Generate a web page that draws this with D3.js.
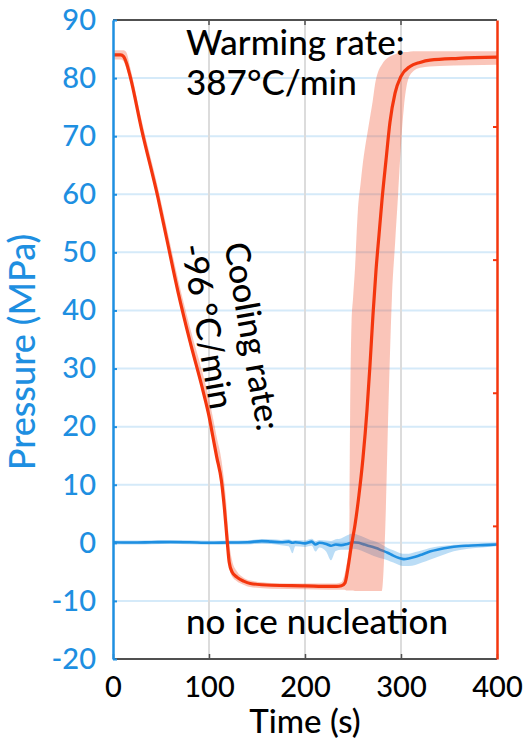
<!DOCTYPE html>
<html><head><meta charset="utf-8">
<script src="https://cdn.jsdelivr.net/npm/d3@7"></script>
<style>
html,body{margin:0;padding:0;background:#fff;}
svg{display:block;font-family:Lato,"Open Sans",sans-serif;font-weight:500;}
</style></head><body>
<svg id="chart" width="532" height="742"></svg>
<script>
// Mean pressure during cooling, hold and warming
const redTime = [0,8,11,14,18,30,47,56,68,80,94,100,104,108,113,116,118,119.5,121,124,129,136,143,165,200,225,233,238,241.7,244.8,247.9,252.1,256.2,260.4,264.6,267.7,270.8,274,277.1,280.2,284.4,288.5,293.8,300,309.4,319.8,330.2,360,400];
const redMean = [84.0,84.0,83.7,82.6,80.2,71.0,59.3,52.3,43.0,34.8,26.0,21.8,18.3,14.8,10.6,6.0,2.2,-0.8,-3.3,-5.0,-5.9,-6.6,-7.0,-7.3,-7.4,-7.5,-7.5,-7.4,-6.9,-4.3,-0.9,3.1,8.2,14.6,22.9,30.6,39.2,47.0,53.0,59.0,65.9,72.4,77.4,80.3,82.0,82.7,83.1,83.4,83.6];

// Spread of the pressure runs (lower / upper bound)
const bandTime = [0,8,11,14,18,30,47,56,68,80,94,100,104,108,113,116,118,119.5,121,124,129,136,143,165,200,225,233,238,241,243,245,246,247,248.5,250,252,255,258,260,262.5,265,268,270.5,273,276,280,283.5,287,290.5,294,297,300,303,307,313,320,340,370,400];
const redLow  = [83.2,83.2,82.9,81.6,79.4,70.3,58.6,51.6,42.3,34.1,25.3,21.1,17.6,14.0,9.8,5.0,1.2,-1.8,-4.3,-5.8,-6.6,-7.2,-7.6,-7.9,-8.0,-8.1,-8.1,-8.1,-8.1,-8.2,-8.2,-8.2,-8.2,-8.2,-8.2,-8.3,-8.3,-8.3,-8.3,-8.3,-8.3,-8.3,-8.3,-8.3,-8.3,-8.3,2.0,24.0,42.0,52.0,60.0,68.5,75.0,79.5,81.2,81.8,82.1,82.2,82.3];
const redHigh = [84.8,84.8,84.8,84.4,81.8,72.6,61.0,54.2,45.2,37.2,28.8,24.8,21.6,18.2,14.2,10.2,6.8,3.2,0.2,-3.0,-4.9,-6.0,-6.5,-6.9,-7.0,-7.0,-7.0,-6.8,-5.6,-4.0,-2.0,0.0,22.0,38.0,42.0,47.0,57.0,62.0,65.0,68.0,70.5,73.5,76.0,79.0,81.0,82.3,83.1,83.6,83.9,84.1,84.3,84.4,84.5,84.5,84.6,84.6,84.6,84.6,84.6];

// Reference trace near zero pressure
const blueTime = [0,20,40,60,80,100,120,140,155,165,175,183,187,190,200,207,211,215,222,227,232,238,244,250,256,262,268,274,280,286,292,298,303,308,315,322,330,340,350,360,370,385,400];
const blueMean = [0.1,0.05,0.1,0.15,0.1,0.0,0.05,0.1,0.3,0.2,0.1,0.2,0.0,0.1,-0.1,0.2,-0.3,0.0,-0.2,-0.5,-0.3,-0.4,-0.2,0.1,0.0,-0.3,-0.6,-0.9,-1.3,-1.7,-2.2,-2.6,-2.8,-2.7,-2.4,-2.0,-1.5,-1.1,-0.8,-0.6,-0.5,-0.4,-0.3];
const blueLow  = [-0.3,-0.3,-0.25,-0.2,-0.25,-0.35,-0.3,-0.3,-0.1,-0.2,-0.4,-0.6,-1.8,-0.6,-0.7,-0.5,-1.5,-0.8,-1.5,-3.0,-1.4,-1.2,-1.2,-1.0,-1.2,-1.6,-2.0,-2.4,-2.7,-3.0,-3.4,-3.8,-4.0,-4.0,-3.8,-3.4,-2.9,-2.3,-1.7,-1.3,-1.0,-0.8,-0.6];
const blueHigh = [0.4,0.4,0.45,0.5,0.45,0.35,0.4,0.45,0.65,0.6,0.5,0.6,0.4,0.5,0.4,0.7,0.3,0.5,0.4,0.3,0.6,0.8,1.3,1.6,1.3,0.9,0.5,0.2,-0.3,-0.9,-1.3,-1.7,-1.9,-1.9,-1.6,-1.3,-0.9,-0.6,-0.4,-0.3,-0.2,-0.1,0.0];

const xTicks = [0,100,200,300,400];
const yTicks = [-20,-10,0,10,20,30,40,50,60,70,80,90];
const tempTicks = [-150,-100,-50,0];

const W = 532, H = 742;
const m = {top:20, right:35, bottom:83, left:113};
const BLUE = "#1e8fe1", RED = "#f4360e", DARK = "#505050";

const x = d3.scaleLinear().domain([0,400]).range([m.left, W - m.right]);
const y = d3.scaleLinear().domain([-20,90]).range([H - m.bottom, m.top]);
const yTemp = d3.scaleLinear().domain([-200,40]).range([H - m.bottom, m.top]);

const svg = d3.select("#chart");

// grid
svg.append("g").selectAll("line").data(yTicks).join("line")
  .attr("x1", m.left).attr("x2", W - m.right)
  .attr("y1", d => y(d)).attr("y2", d => y(d))
  .attr("stroke", "#d5eaf9").attr("stroke-width", 2);
svg.append("g").selectAll("line").data(xTicks.slice(1, -1)).join("line")
  .attr("x1", d => x(d)).attr("x2", d => x(d))
  .attr("y1", m.top).attr("y2", H - m.bottom)
  .attr("stroke", "#dcdcdc").attr("stroke-width", 2);

const redRows = redTime.map((t, i) => ({t, v: redMean[i]}));
const redBand = bandTime.map((t, i) => ({t, lo: redLow[i], hi: redHigh[i]}));
const blueRows = blueTime.map((t, i) => ({t, v: blueMean[i], lo: blueLow[i], hi: blueHigh[i]}));

const band = d3.area().x(d => x(d.t)).y0(d => y(d.lo)).y1(d => y(d.hi)).curve(d3.curveMonotoneX);
const line = d3.line().x(d => x(d.t)).y(d => y(d.v)).curve(d3.curveMonotoneX);

svg.append("path").datum(blueRows).attr("d", band)
  .attr("fill", BLUE).attr("fill-opacity", 0.3);
svg.append("path").datum(blueRows).attr("d", line)
  .attr("fill", "none").attr("stroke", BLUE).attr("stroke-width", 2.6);

svg.append("path").datum(redBand).attr("d", band)
  .attr("fill", "#f04a25").attr("fill-opacity", 0.32);
svg.append("path").datum(redRows).attr("d", line)
  .attr("fill", "none").attr("stroke", RED).attr("stroke-width", 3.2)
  .attr("stroke-linejoin", "round");

// frame: top and bottom dark
svg.append("line").attr("x1", m.left).attr("x2", W - m.right).attr("y1", m.top).attr("y2", m.top)
  .attr("stroke", DARK).attr("stroke-width", 2);
svg.append("line").attr("x1", m.left).attr("x2", W - m.right).attr("y1", H - m.bottom).attr("y2", H - m.bottom)
  .attr("stroke", DARK).attr("stroke-width", 2);

// top ticks
svg.append("g").selectAll("line").data(xTicks.slice(1, -1)).join("line")
  .attr("x1", d => x(d)).attr("x2", d => x(d)).attr("y1", m.top).attr("y2", m.top + 5)
  .attr("stroke", DARK).attr("stroke-width", 1.5);

const plain = d => String(d);

// bottom axis
const gx = svg.append("g").attr("transform", `translate(0,${H - m.bottom})`)
  .call(d3.axisBottom(x).tickValues(xTicks).tickFormat(plain).tickSizeInner(-5).tickSizeOuter(0).tickPadding(17));
gx.select(".domain").remove();
gx.selectAll(".tick line").attr("stroke", DARK).attr("stroke-width", 1.5);
gx.selectAll(".tick text").attr("fill", "#000").attr("font-size", 29).attr("font-family", "Lato");

// left axis
const gy = svg.append("g").attr("transform", `translate(${m.left},0)`)
  .call(d3.axisLeft(y).tickValues(yTicks).tickFormat(plain).tickSizeInner(-4).tickSizeOuter(0).tickPadding(17));
gy.select(".domain").attr("stroke", BLUE).attr("stroke-width", 2.5);
gy.selectAll(".tick line").attr("stroke", BLUE).attr("stroke-width", 2);
gy.selectAll(".tick text").attr("fill", BLUE).attr("font-size", 29).attr("font-family", "Lato");

// right axis (unlabelled temperature ticks)
const gr = svg.append("g").attr("transform", `translate(${W - m.right},0)`)
  .call(d3.axisRight(yTemp).tickValues(tempTicks).tickSizeInner(-4).tickSizeOuter(0).tickFormat(""));
gr.select(".domain").attr("stroke", RED).attr("stroke-width", 2.5);
gr.selectAll(".tick line").attr("stroke", RED).attr("stroke-width", 2);

// axis titles
svg.append("text").attr("x", (m.left + W - m.right) / 2).attr("y", 733)
  .attr("text-anchor", "middle").attr("font-size", 33).attr("fill", "#000").text("Time (s)");
svg.append("text").attr("transform", "translate(35,352) rotate(-90)")
  .attr("text-anchor", "middle").attr("font-size", 36).attr("fill", BLUE).text("Pressure (MPa)");

// annotations
svg.append("text").attr("x", 186).attr("y", 55).attr("font-size", 35).attr("fill", "#000").text("Warming rate:");
svg.append("text").attr("x", 186).attr("y", 95).attr("font-size", 35).attr("fill", "#000").text("387°C/min");
svg.append("text").attr("x", 186).attr("y", 634).attr("font-size", 35).attr("fill", "#000").text("no ice nucleation");
svg.append("text").attr("transform", "translate(254,336) rotate(80)")
  .attr("text-anchor", "middle").attr("dominant-baseline", "central")
  .attr("font-size", 34).attr("fill", "#000").text("Cooling rate:");
svg.append("text").attr("transform", "translate(209,326) rotate(80)")
  .attr("text-anchor", "middle").attr("dominant-baseline", "central")
  .attr("font-size", 34).attr("fill", "#000").text("-96 °C/min");
</script>
</body></html>
